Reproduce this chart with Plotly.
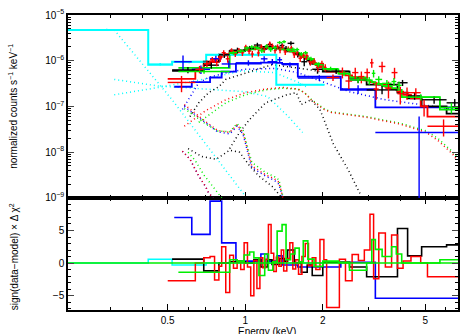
import numpy as np
import plotly.graph_objects as go

# ---------------- data (energies in keV, flux in counts/s/keV) ----------------
black_edges = [0.52, 0.69, 0.79, 0.87, 1.0, 1.08, 1.15, 1.22, 1.27, 1.36, 1.42, 1.46, 1.55,
               1.65, 1.74, 1.82, 2.0, 2.54, 2.96, 3.9, 4.27, 4.84, 6.05, 7.0]
black_model = [6.0e-7, 9.5e-7, 1.35e-6, 1.65e-6, 1.85e-6, 1.95e-6, 2.0e-6, 2.0e-6, 1.95e-6,
               1.85e-6, 1.75e-6, 1.6e-6, 1.4e-6, 1.2e-6, 1.05e-6, 8.5e-7, 5.8e-7, 4.2e-7,
               3.0e-7, 2.0e-7, 1.5e-7, 1.0e-7, 7.0e-8]
black_data = [6.3e-7, 8.0e-7, 1.35e-6, 1.7e-6, 1.85e-6, 2.2e-6, 1.8e-6, 2.25e-6, 1.9e-6,
              2.15e-6, 1.85e-6, 2.4e-6, 1.4e-6, 9.5e-7, 1.0e-6, 6.5e-7, 5.9e-7, 3.8e-7,
              2.3e-7, 3.3e-7, 1.7e-7, 1.4e-7, 1.2e-7]
black_err = [1.0e-7, 1.3e-7, 2.0e-7, 2.3e-7, 2.6e-7, 2.7e-7, 2.7e-7, 2.8e-7, 2.6e-7, 2.6e-7,
             2.5e-7, 2.5e-7, 2.2e-7, 1.9e-7, 1.7e-7, 1.3e-7, 8e-8, 6e-8, 4.5e-8, 5e-8, 3e-8,
             2.5e-8, 2.5e-8]
black_res = [0.6, -1.2, 0.0, 0.2, 0.0, 0.5, -0.6, 0.5, -0.2, 0.7, 0.3, 2.0, 0.0, -1.4, -0.3,
             -1.9, 0.1, -0.6, -2.1, 5.3, 1.1, 2.5, 2.8]

red_edges = [0.50, 0.64, 0.69, 0.73, 0.76, 0.79, 0.81, 0.84, 0.87, 0.90, 0.93, 0.96, 0.99,
             1.02, 1.05, 1.08, 1.11, 1.14, 1.17, 1.20, 1.23, 1.26, 1.29, 1.32, 1.35, 1.38,
             1.41, 1.45, 1.49, 1.53, 1.57, 1.61, 1.66, 1.71, 1.76, 1.82, 1.88, 1.95, 2.02,
             2.07, 2.32, 2.45, 2.6, 2.75, 2.9, 3.05, 3.15, 3.3, 3.5, 3.7, 3.9, 4.1, 4.4, 4.8,
             5.1, 6.8]
red_model = [4.0e-7, 6.5e-7, 8.0e-7, 9.5e-7, 1.1e-6, 1.2e-6, 1.3e-6, 1.4e-6, 1.5e-6, 1.55e-6,
             1.6e-6, 1.65e-6, 1.7e-6, 1.75e-6, 1.8e-6, 1.82e-6, 1.85e-6, 1.87e-6, 1.88e-6,
             1.9e-6, 1.9e-6, 1.9e-6, 1.88e-6, 1.86e-6, 1.83e-6, 1.8e-6, 1.75e-6, 1.68e-6,
             1.6e-6, 1.5e-6, 1.4e-6, 1.3e-6, 1.2e-6, 1.1e-6, 1.0e-6, 9.0e-7, 8.0e-7, 7.2e-7,
             6.6e-7, 5.8e-7, 5.2e-7, 4.8e-7, 4.4e-7, 4.0e-7, 3.7e-7, 3.4e-7, 3.2e-7, 3.0e-7,
             2.7e-7, 2.4e-7, 2.1e-7, 1.8e-7, 1.5e-7, 1.0e-7, 6.0e-8]
red_data = [3.35e-7, 6.5e-7, 8.7e-7, 1.05e-6, 9.2e-7, 1.12e-6, 1.5e-6, 1.1e-6, 1.66e-6, 1.41e-6,
            1.68e-6, 1.49e-6, 2.0e-6, 1.61e-6, 1.4e-6, 1.93e-6, 1.48e-6, 2.04e-6, 1.73e-6,
            2.05e-6, 2.36e-6, 2.13e-6, 1.67e-6, 2.03e-6, 1.7e-6, 2.05e-6, 1.56e-6, 1.82e-6,
            1.89e-6, 1.35e-6, 1.5e-6, 1.13e-6, 1.32e-6, 1.29e-6, 9.4e-7, 9.8e-7, 7.2e-7, 8.6e-7,
            7.1e-7, 4.3e-7, 5.6e-7, 3.6e-7, 5.5e-7, 4.5e-7, 5.5e-7, 9.0e-7, 2.4e-7, 7.5e-7,
            2.5e-7, 5.5e-7, 1.9e-7, 2.0e-7, 2.0e-7, 1.0e-7, 3.7e-8]
red_err = [1.3e-7, 1.2e-7, 1.4e-7, 1.6e-7, 1.6e-7, 1.8e-7, 2.0e-7, 2.0e-7, 2.1e-7, 2.1e-7,
           2.2e-7, 2.2e-7, 2.3e-7, 2.3e-7, 2.3e-7, 2.4e-7, 2.4e-7, 2.4e-7, 2.4e-7, 2.5e-7,
           2.6e-7, 2.5e-7, 2.4e-7, 2.5e-7, 2.4e-7, 2.5e-7, 2.3e-7, 2.3e-7, 2.3e-7, 2.1e-7,
           2.1e-7, 1.9e-7, 1.9e-7, 1.8e-7, 1.6e-7, 1.6e-7, 1.4e-7, 1.4e-7, 1.3e-7, 7e-8,
           1.5e-7, 1.2e-7, 1.5e-7, 1.3e-7, 1.3e-7, 2.0e-7, 1.0e-7, 2.0e-7, 1.0e-7, 1.5e-7,
           8e-8, 6e-8, 5e-8, 4e-8, 1.5e-8]
red_res = [-2.7, 0.0, 0.8, 1.0, -2.6, -0.5, 2.5, -4.5, 1.2, -0.8, 0.3, -1.0, 3.1, -0.6, -5.0,
           0.4, -3.9, 0.8, -0.7, 0.6, 5.9, 1.5, -1.3, 0.9, -0.5, 2.0, -1.2, 0.7, 3.1, -0.9,
           0.5, -1.7, 1.0, 3.0, -0.4, 0.8, -1.0, 3.6, 0.5, -6.8, 0.6, -2.7, 1.3, 0.4, 2.0,
           7.5, -2.4, 4.6, -0.6, 4.3, -0.8, 0.3, 1.0, 0.0, -2.1]

green_edges = [0.55, 0.87, 0.93, 0.99, 1.04, 1.08, 1.13, 1.19, 1.23, 1.28, 1.33, 1.39, 1.44,
               1.5, 1.56, 1.62, 1.68, 1.75, 1.85, 2.0, 2.3, 2.54, 2.96, 3.1, 3.2, 3.4, 3.7,
               3.86, 4.05, 5.7, 7.0]
green_model = [7.0e-7, 1.45e-6, 1.6e-6, 1.7e-6, 1.78e-6, 1.83e-6, 1.87e-6, 1.9e-6, 1.9e-6,
               1.88e-6, 1.84e-6, 1.78e-6, 1.7e-6, 1.6e-6, 1.48e-6, 1.36e-6, 1.22e-6, 1.05e-6,
               8.6e-7, 6.5e-7, 5.2e-7, 4.3e-7, 3.7e-7, 3.4e-7, 3.1e-7, 2.8e-7, 2.5e-7, 2.3e-7,
               1.6e-7, 8.5e-8]
green_data = [5.8e-7, 1.5e-6, 1.63e-6, 1.9e-6, 2.0e-6, 1.95e-6, 1.65e-6, 2.1e-6, 1.75e-6,
              1.93e-6, 2.5e-6, 2.6e-6, 1.76e-6, 1.78e-6, 1.75e-6, 1.4e-6, 1.5e-6, 1.1e-6,
              8.2e-7, 6.7e-7, 5.25e-7, 3.8e-7, 3.7e-7, 5.3e-7, 3.9e-7, 3.2e-7, 3.5e-7, 2.9e-7,
              1.6e-7, 9.5e-8]
green_err = [6e-8, 1.5e-7, 1.6e-7, 1.7e-7, 1.8e-7, 1.8e-7, 1.8e-7, 1.9e-7, 1.9e-7, 1.9e-7,
             2.0e-7, 2.0e-7, 1.8e-7, 1.7e-7, 1.6e-7, 1.5e-7, 1.4e-7, 1.2e-7, 1.0e-7, 7e-8,
             6e-8, 5e-8, 7e-8, 1.0e-7, 7e-8, 6e-8, 7e-8, 6e-8, 2.5e-8, 2.5e-8]
green_res = [-1.4, 0.5, 0.3, 1.25, 1.7, 0.8, -1.9, 1.4, -1.1, 0.2, 4.9, 5.9, 0.5, 1.4, 2.3,
             0.2, 3.4, 0.6, -0.5, 0.3, 0.1, -1.1, 0.0, 3.6, 2.1, 1.0, 2.5, 1.4, 0.0, 0.5]

blue_edges = [0.53, 0.62, 0.73, 0.81, 0.92, 1.15, 1.22, 1.33, 1.39, 1.6, 2.35, 3.2, 7.0]
blue_model = [2.7e-7, 3.4e-7, 4.3e-7, 5.8e-7, 8.6e-7, 9.1e-7, 9.1e-7, 9.0e-7, 8.5e-7, 4.5e-7,
              2.3e-7, 9.5e-8]
blue_data = [9.5e-7, 6.5e-7, 1.1e-6, 8.5e-7, 9.0e-7, 1.1e-6, 9.5e-7, 1.05e-6, 8.2e-7, 4.2e-7,
             2.4e-7, 2.7e-8]
blue_err = [3.5e-7, 1.4e-7, 1.8e-7, 1.6e-7, 1.2e-7, 1.5e-7, 1.4e-7, 1.5e-7, 1.0e-7, 6e-8,
            5e-8, 3.3e-8]
blue_err_minus = [3.5e-7, 1.4e-7, 1.8e-7, 1.6e-7, 1.2e-7, 1.5e-7, 1.4e-7, 1.5e-7, 1.0e-7, 6e-8,
                  5e-8, 2.699e-8]
blue_res = [7.0, 4.4, 9.5, 3.1, 0.3, 1.4, 0.3, 1.1, -0.3, -0.6, 0.1, -5.4]

cyan_edges = [0.2, 0.42, 0.52, 0.705, 1.32, 2.03]
cyan_model = [4.7e-6, 8.2e-7, 9.5e-7, 1.35e-6, 3.0e-7]
cyan_data = [4.8e-6, 8.4e-7, 9.3e-7, 1.35e-6, 3.0e-7]
cyan_err = [2e-7, 5e-8, 5e-8, 6e-8, 2e-8]
cyan_res = [0.0, 0.6, -0.3, 0.0, 0.0]

# model components (dotted)
cyan_c1_e = [0.31, 0.52, 1.0]
cyan_c1_v = [4.7e-6, 1.4e-7, 1.1e-9]
cyan_c2_e = [0.31, 0.46, 0.7, 0.97, 1.3, 1.6, 1.75]
cyan_c2_v = [1.8e-7, 2.6e-7, 4.0e-7, 6.0e-7, 5.5e-7, 3.4e-7, 2.6e-7]
cyan_c3_e = [0.31, 0.46, 0.7, 1.0, 1.22, 1.45, 1.67]
cyan_c3_v = [3.9e-7, 2.8e-7, 2.4e-7, 2.1e-7, 1.65e-7, 6.5e-8, 2.7e-8]

red_hump_e = [0.58, 0.7, 0.84, 1.0, 1.2, 1.4, 1.6, 1.7, 1.8, 2.03, 2.16, 2.95, 4.0, 5.05, 5.6, 6.4, 6.6]
red_hump_v = [3.7e-8, 8e-8, 1.4e-7, 2.0e-7, 2.4e-7, 2.6e-7, 2.4e-7, 2.0e-7, 1.4e-7, 8.5e-8,
              7.4e-8, 5.8e-8, 4.1e-8, 2.7e-8, 1.8e-8, 9e-9, 7e-9]
green_hump_e = [0.66, 0.75, 0.84, 1.0, 1.2, 1.4, 1.6, 1.7, 1.8, 2.03, 2.16, 2.95, 4.0, 5.05, 5.6, 6.4, 6.6]
green_hump_v = [4.5e-8, 7.5e-8, 1.2e-7, 1.8e-7, 2.3e-7, 2.5e-7, 2.4e-7, 2.0e-7, 1.45e-7, 8.8e-8,
                7.6e-8, 6.0e-8, 4.3e-8, 2.9e-8, 2.0e-8, 1.0e-8, 8e-9]
black_hump_e = [0.87, 0.95, 1.04, 1.13, 1.2, 1.45, 1.58, 1.65, 1.8, 1.95, 2.2, 2.5, 2.8]
black_hump_v = [1.2e-8, 2.7e-8, 5.2e-8, 8.6e-8, 1.2e-7, 1.8e-7, 2.0e-7, 1.1e-7, 1.4e-7, 8.6e-8,
                1.5e-8, 4.3e-9, 1.2e-9]
black_soft_e = [0.61, 0.66, 0.72, 0.79, 0.84, 1.1, 1.2, 1.27, 1.77, 1.94]
black_soft_v = [6e-8, 1.2e-7, 2e-7, 2.7e-7, 3.9e-7, 6.4e-7, 7.4e-7, 8.2e-7, 6.4e-7, 5.8e-7]
black_low_e = [0.6, 0.68, 0.77, 0.87, 0.95, 1.04, 1.13, 1.27, 1.39]
black_low_v = [1.2e-8, 8e-9, 7e-9, 1.1e-8, 1.0e-8, 5e-9, 3e-9, 1.8e-9, 1.0e-9]
blue_soft_e = [0.57, 0.62, 0.66, 0.72, 0.85, 1.0, 1.3, 1.6, 2.0, 2.54, 3.5, 5.3, 6.7]
blue_soft_v = [8.6e-8, 1.8e-7, 3.3e-7, 4.3e-7, 5.5e-7, 6.5e-7, 6.8e-7, 5.5e-7, 3.5e-7, 2.1e-7,
               1.4e-7, 1.0e-7, 8.5e-8]
c1_e = [0.58, 0.63, 0.7, 0.78, 0.87, 0.93, 0.98, 1.06, 1.2, 1.3, 1.35, 1.4]
c1_red_v = [1.1e-7, 7.5e-8, 4.7e-8, 3.0e-8, 2.7e-8, 4.0e-8, 2.7e-8, 5e-9, 3.2e-9, 2.6e-9, 2.2e-9, 1e-9]
c1_blue_v = [1.0e-7, 7.0e-8, 4.4e-8, 2.8e-8, 2.5e-8, 3.7e-8, 2.5e-8, 4.6e-9, 3.0e-9, 2.4e-9, 2.0e-9, 1e-9]
c1_green_v = [9.0e-8, 6.5e-8, 4.2e-8, 2.9e-8, 2.8e-8, 4.2e-8, 3.0e-8, 6e-9, 3.6e-9, 2.9e-9, 2.5e-9, 1.1e-9]
c2_e = [0.57, 0.61, 0.66, 0.7, 0.72, 0.75]
c2_red_v = [1.05e-8, 7e-9, 3e-9, 1.8e-9, 1.3e-9, 1.0e-9]
c2_green_e = [0.6, 0.64, 0.69, 0.74, 0.78, 0.81]
c2_green_v = [1.0e-8, 6.5e-9, 3.2e-9, 1.9e-9, 1.3e-9, 1.0e-9]

BLACK, RED, GREEN, BLUE, CYAN = "#000000", "#ff0000", "#00ee00", "#0000ff", "#00ffff"

fig = go.Figure()


def comp(e, v, color):
    fig.add_trace(go.Scatter(x=e, y=v, mode="lines", xaxis="x2", yaxis="y2",
                             line=dict(color=color, width=1.5, dash="1px,3px"),
                             showlegend=False))


def steps(edges, vals, color, ax, yax, width=1.6, opacity=1.0):
    fig.add_trace(go.Scatter(x=list(edges), y=list(vals) + [vals[-1]], mode="lines",
                             line_shape="hv", xaxis=ax, yaxis=yax, opacity=opacity,
                             line=dict(color=color, width=width), showlegend=False))


def crosses(edges, vals, err, color, errm=None):
    lo = np.array(edges[:-1]); hi = np.array(edges[1:])
    c = np.sqrt(lo * hi)
    fig.add_trace(go.Scatter(
        x=c, y=vals, mode="markers", xaxis="x2", yaxis="y2",
        marker=dict(size=1, color=color),
        error_x=dict(type="data", symmetric=False, array=hi - c, arrayminus=c - lo,
                     color=color, thickness=1.4, width=0),
        error_y=dict(type="data", symmetric=False, array=err,
                     arrayminus=errm if errm is not None else err,
                     color=color, thickness=1.4, width=0),
        showlegend=False))


# components
comp(cyan_c1_e, cyan_c1_v, CYAN)
comp(cyan_c2_e, cyan_c2_v, CYAN)
comp(cyan_c3_e, cyan_c3_v, CYAN)
comp(black_hump_e, black_hump_v, BLACK)
comp(black_soft_e, black_soft_v, BLACK)
comp(black_low_e, black_low_v, BLACK)
comp(blue_soft_e, blue_soft_v, BLUE)
comp(c1_e, c1_blue_v, BLUE)
comp(c1_e, c1_green_v, GREEN)
comp(c1_e, c1_red_v, RED)
comp(c2_e, c2_red_v, BLUE)
comp(c2_green_e, c2_green_v, GREEN)
comp(c2_e, c2_red_v, RED)
comp(green_hump_e, green_hump_v, GREEN)
comp(red_hump_e, red_hump_v, RED)

# models
steps(cyan_edges, cyan_model, CYAN, "x2", "y2", 2)
steps(blue_edges, blue_model, BLUE, "x2", "y2", 1.8)
steps(black_edges, black_model, BLACK, "x2", "y2", 1.8)
steps(red_edges, red_model, RED, "x2", "y2", 1.8)
steps(green_edges, green_model, GREEN, "x2", "y2", 1.8)

# data
crosses(cyan_edges, cyan_data, cyan_err, CYAN)
crosses(blue_edges, blue_data, blue_err, BLUE, blue_err_minus)
crosses(black_edges, black_data, black_err, BLACK)
crosses(red_edges, red_data, red_err, RED)
crosses(green_edges, green_data, green_err, GREEN)

# residuals
steps(cyan_edges, cyan_res, CYAN, "x", "y", 1.5)
steps(blue_edges, blue_res, BLUE, "x", "y", 1.6)
steps(black_edges, black_res, BLACK, "x", "y", 1.6)
steps(red_edges, red_res, RED, "x", "y", 1.5)
steps(green_edges, green_res, GREEN, "x", "y", 1.6)
fig.add_trace(go.Scatter(x=[0.2, 7.0], y=[0, 0], mode="lines", xaxis="x", yaxis="y",
                         line=dict(color=GREEN, width=1.6), showlegend=False))

font = dict(family="Liberation Sans, Arial, sans-serif", size=10, color="black")
xminor = [0.3, 0.4, 0.6, 0.7, 0.8, 0.9, 3, 4, 6]
common_x = dict(type="log", range=[np.log10(0.205), np.log10(6.7)], showgrid=False,
                ticks="inside", ticklen=6, tickwidth=1, tickcolor="black",
                showline=True, linecolor="black", linewidth=1.5, mirror="allticks",
                tickvals=[0.5, 1, 2, 5], zeroline=False,
                minor=dict(tickmode="array", tickvals=xminor, ticks="inside", ticklen=3,
                           tickcolor="black", showgrid=False))
yminor = [m * 10.0 ** d for d in range(-9, -5) for m in range(2, 10)]

fig.update_layout(
    width=461, height=334, margin=dict(l=68, r=1, t=15, b=24),
    paper_bgcolor="white", plot_bgcolor="white", font=font, showlegend=False,
    xaxis=dict(common_x, anchor="y", domain=[0, 1], ticktext=["0.5", "1", "2", "5"],
               tickfont=font),
    xaxis2=dict(common_x, anchor="y2", matches="x", showticklabels=False),
    yaxis=dict(domain=[0, 0.38], range=[-7.2, 10], tickvals=[-5, 0, 5], ticks="inside",
               ticklen=6, showgrid=False, zeroline=False, showline=True, linecolor="black",
               linewidth=1.5, mirror="allticks", tickfont=font,
               minor=dict(dtick=1, ticks="inside", ticklen=3, tickcolor="black",
                          showgrid=False)),
    yaxis2=dict(domain=[0.38, 1], type="log", range=[-9, -5],
                tickvals=[1e-9, 1e-8, 1e-7, 1e-6, 1e-5],
                ticktext=["10<sup>−9</sup>", "10<sup>−8</sup>", "10<sup>−7</sup>",
                          "10<sup>−6</sup>", "10<sup>−5</sup>"],
                ticks="inside", ticklen=6, showgrid=False, zeroline=False, showline=True,
                linecolor="black", linewidth=1.5, mirror="allticks", tickfont=font,
                anchor="x2",
                minor=dict(tickmode="array", tickvals=yminor, ticks="inside", ticklen=3,
                           tickcolor="black", showgrid=False)),
    annotations=[
        dict(text="normalized counts s<sup>−1</sup> keV<sup>−1</sup>", xref="paper",
             yref="paper", x=-0.14, y=0.69, textangle=-90, showarrow=False,
             font=font, xanchor="center", yanchor="middle"),
        dict(text="sign(data−model) × Δ χ<sup>2</sup>", xref="paper", yref="paper",
             x=-0.14, y=0.18, textangle=-90, showarrow=False, font=font,
             xanchor="center", yanchor="middle"),
        dict(text="Energy (keV)", xref="paper", yref="paper", x=0.51, y=-0.074,
             showarrow=False, font=font, xanchor="center", yanchor="middle"),
    ],
)

fig.write_html("out.html")
